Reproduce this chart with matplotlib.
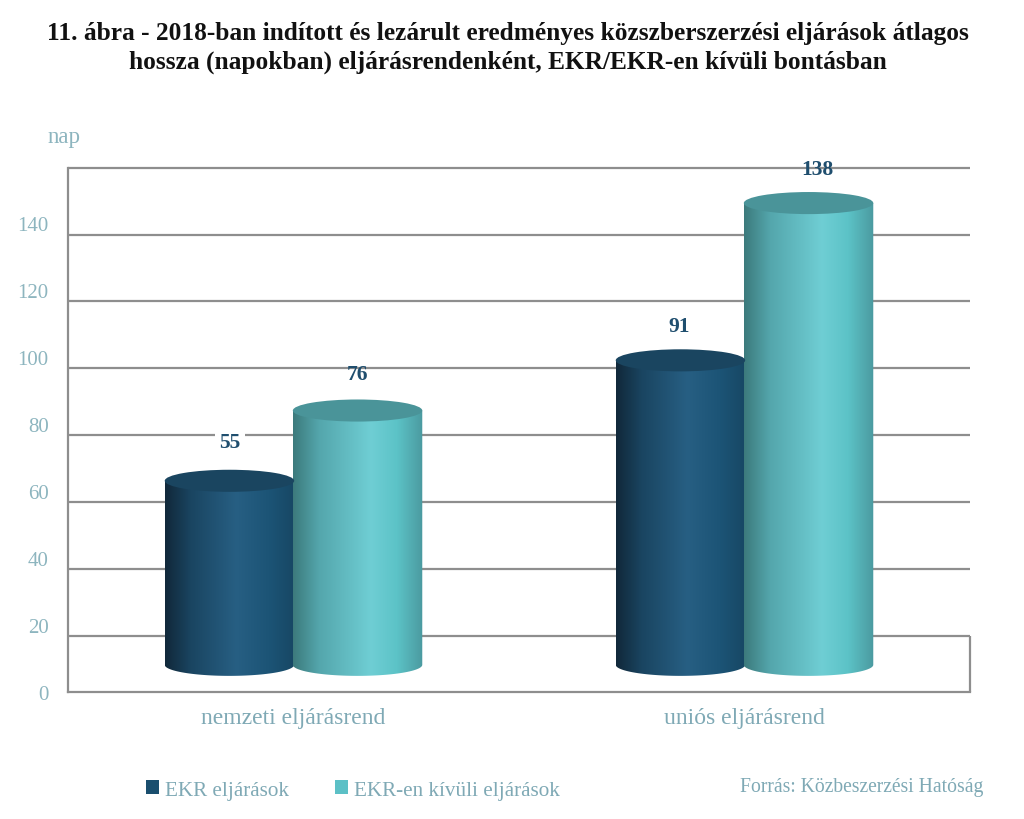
import numpy as np
import matplotlib
matplotlib.use("Agg")
import matplotlib.pyplot as plt
from matplotlib.colors import LinearSegmentedColormap
from matplotlib.patches import Ellipse, Patch, PathPatch
from matplotlib.path import Path

plt.rcParams["font.family"] = ["Liberation Serif", "DejaVu Serif"]

categories = ["nemzeti eljárásrend", "uniós eljárásrend"]
series_names = ["EKR eljárások", "EKR-en kívüli eljárások"]
ekr = [55, 91]
non_ekr = [76, 138]
y_ticks = [0, 20, 40, 60, 80, 100, 120, 140]

DARK = "#1a4e6e"
TEAL = "#5cc0c6"
AXIS_TEXT = "#8db5bf"
LINE = "#8e8e8e"

# the 3D look: back wall and bars are both shifted against the tick labels
WALL_SHIFT = -3.4
BAR_BASE = 8.0
BAR_STEP = 0.284
BAR_W = 0.287
CAP_H = 6.6

dark_cmap = LinearSegmentedColormap.from_list("dark", [
    (0, "#11283a"), (0.2, "#1a4561"), (0.55, "#275f83"), (0.8, "#1c5476"), (1, "#174764")])
teal_cmap = LinearSegmentedColormap.from_list("teal", [
    (0, "#3c7a7c"), (0.2, "#54a6ac"), (0.6, "#6fced4"), (0.8, "#5cc3c7"), (1, "#4b9aa0")])


def cylinder(ax, xc, value, cmap, cap_color):
    x0, x1 = xc - BAR_W / 2, xc + BAR_W / 2
    top = BAR_BASE + value
    # body outline: straight sides, rounded bottom
    t = np.linspace(np.pi, 2 * np.pi, 60)
    xs = xc + BAR_W / 2 * np.cos(t)
    ys = BAR_BASE + CAP_H / 2 * np.sin(t)
    verts = np.column_stack([np.r_[xs, x1, x0, x0], np.r_[ys, top, top, ys[0]]])
    body = PathPatch(Path(verts, closed=False), fc="none", ec="none", transform=ax.transData)
    ax.add_patch(body)
    grad = np.linspace(0, 1, 256).reshape(1, -1)
    im = ax.imshow(grad, cmap=cmap, aspect="auto", zorder=3,
                   extent=[x0, x1, BAR_BASE - CAP_H, top], interpolation="bilinear")
    im.set_clip_path(body)
    ax.add_patch(Ellipse((xc, top), BAR_W, CAP_H, fc=cap_color, ec="none", zorder=4))


fig = plt.figure(figsize=(10.24, 8.2), dpi=100)
ax = fig.add_axes([68 / 1024, (820 - 692.6) / 820, 902 / 1024, 524 / 820])

x = np.arange(len(categories))
for i in x:
    cylinder(ax, i - BAR_STEP / 2, ekr[i], dark_cmap, "#1a4560")
    cylinder(ax, i + BAR_STEP / 2, non_ekr[i], teal_cmap, "#4a9499")

ax.set_xlim(-0.5, 1.5)
ax.set_ylim(0, 156.6)

wall = [t + WALL_SHIFT for t in y_ticks[1:]] + [160 + WALL_SHIFT]
ax.hlines(wall, -0.5, 1.5, color=LINE, lw=1.6, zorder=1, clip_on=False)
ax.vlines(1.5, 0, wall[0], color=LINE, lw=1.6, zorder=1, clip_on=False)

for s in ["top", "right"]:
    ax.spines[s].set_visible(False)
for s in ["left", "bottom"]:
    ax.spines[s].set_color(LINE)
    ax.spines[s].set_linewidth(1.6)

ax.set_xticks(x, categories)
ax.set_yticks(y_ticks)
ax.tick_params(axis="x", length=0, pad=11, labelsize=17, labelcolor="#7fa9b5")
ax.tick_params(axis="y", length=0, pad=14, labelsize=15, labelcolor=AXIS_TEXT)

# data labels, offsets in points from the top of each bar
ekr_offsets = [(0.5, 28), (-1, 24.5)]
non_ekr_offsets = [(0, 26.3), (6.5, 24.5)]
for i in x:
    ax.annotate(str(ekr[i]), (i - BAR_STEP / 2, BAR_BASE + ekr[i]), xytext=ekr_offsets[i],
                textcoords="offset points", ha="center", va="center", fontsize=15.5,
                fontweight="bold", color="#1f4e6e", zorder=5,
                bbox=dict(fc="white", ec="none", pad=3) if i == 0 else None)
    ax.annotate(str(non_ekr[i]), (i + BAR_STEP / 2, BAR_BASE + non_ekr[i]), xytext=non_ekr_offsets[i],
                textcoords="offset points", ha="center", va="center", fontsize=15.5,
                fontweight="bold", color="#1f4e6e", zorder=5)

fig.text(64 / 1024, 1 - 137 / 820, "nap", ha="center", va="center", fontsize=16.5, color=AXIS_TEXT)
fig.text(508 / 1024, 1 - 48 / 820,
         "11. ábra - 2018-ban indított és lezárult eredményes közszberszerzési eljárások átlagos\n"
         "hossza (napokban) eljárásrendenként, EKR/EKR-en kívüli bontásban",
         ha="center", va="center", fontsize=18.3, fontweight="bold", color="#111111", linespacing=1.3)

handles = [Patch(fc=DARK, ec="none"), Patch(fc=TEAL, ec="none")]
fig.legend(handles, series_names, loc="center left", bbox_to_anchor=(127 / 1024, 1 - 791 / 820),
           ncol=2, frameon=False, fontsize=15.2, labelcolor="#7fa9b5", handlelength=0.6,
           handleheight=0.6, handletextpad=0.3, columnspacing=2.2)
fig.text(983 / 1024, 1 - 788 / 820, "Forrás: Közbeszerzési Hatóság", ha="right", va="center",
         fontsize=14.1, color="#7fa9b5")

fig.savefig("out.png", dpi=100)
